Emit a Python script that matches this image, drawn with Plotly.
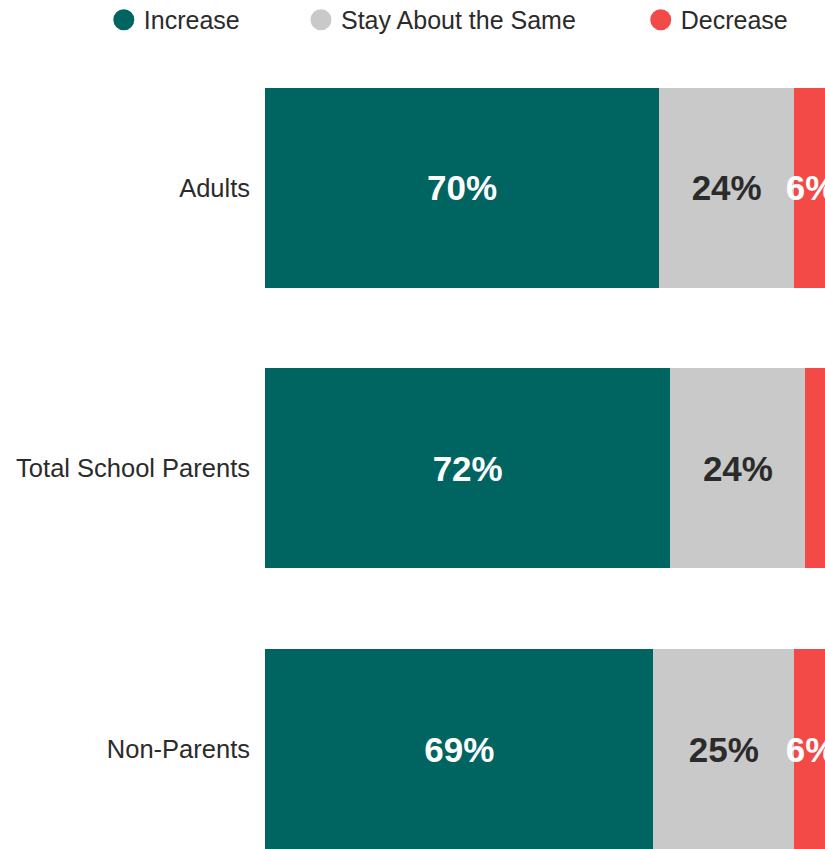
import plotly.graph_objects as go

categories = ["Adults", "Total School Parents", "Non-Parents"]
increase = [70, 72, 69]
same = [24, 24, 25]
decrease = [6, 4, 6]
series_names = ["Increase", "Stay About the Same", "Decrease"]
colors = ["#006461", "#C9C9C9", "#F44A47"]
text_colors = ["#FFFFFF", "#2B2B2B", "#FFFFFF"]

FONT = "Liberation Sans, Arial, sans-serif"

def labels(vals, min_show=5):
    return [f"{v}%" if v >= min_show else "" for v in vals]

fig = go.Figure()
values = [increase, same, decrease]
for name, vals, c, tc in zip(series_names, values, colors, text_colors):
    fig.add_trace(go.Bar(
        y=categories, x=vals, orientation="h", name=name,
        marker=dict(color=c, line=dict(width=0)),
        text=labels(vals), textposition="inside", insidetextanchor="middle",
        textangle=0, constraintext="none", cliponaxis=False,
        textfont=dict(family=FONT, size=35, color=tc, weight="bold"),
        showlegend=False, hoverinfo="skip",
    ))

legend_ids = ["legend", "legend2", "legend3"]
legend_x = [-0.2863, 0.0639, 0.6674]
for name, c, lid in zip(series_names, colors, legend_ids):
    fig.add_trace(go.Scatter(
        x=[None], y=[None], mode="markers", name=name,
        marker=dict(color=c, size=16, symbol="circle", line=dict(color=c, width=5)),
        legend=lid, showlegend=True,
    ))

legend_common = dict(
    orientation="h", yanchor="middle", y=1.035, xanchor="left",
    font=dict(family=FONT, size=25, color="#2B2B2B"),
    bgcolor="rgba(0,0,0,0)", borderwidth=0,
)

fig.update_layout(
    width=828, height=849,
    margin=dict(l=265, r=0, t=48, b=0, autoexpand=False),
    paper_bgcolor="white", plot_bgcolor="white",
    barmode="stack", bargap=0.287,
    xaxis=dict(range=[0, 100], visible=False, fixedrange=True),
    yaxis=dict(
        type="category", categoryorder="array", categoryarray=categories,
        range=[2.3565, -0.499], showgrid=False, zeroline=False, showline=False,
        ticks="", ticklabelstandoff=14, fixedrange=True,
        tickfont=dict(family=FONT, size=25.5, color="#2B2B2B"),
    ),
    legend=dict(x=legend_x[0], **legend_common),
    legend2=dict(x=legend_x[1], **legend_common),
    legend3=dict(x=legend_x[2], **legend_common),
)

fig.write_html(
    "out.html",
    config={"displayModeBar": False},
    post_script="document.body.style.margin='0';document.body.style.overflow='hidden';",
)
